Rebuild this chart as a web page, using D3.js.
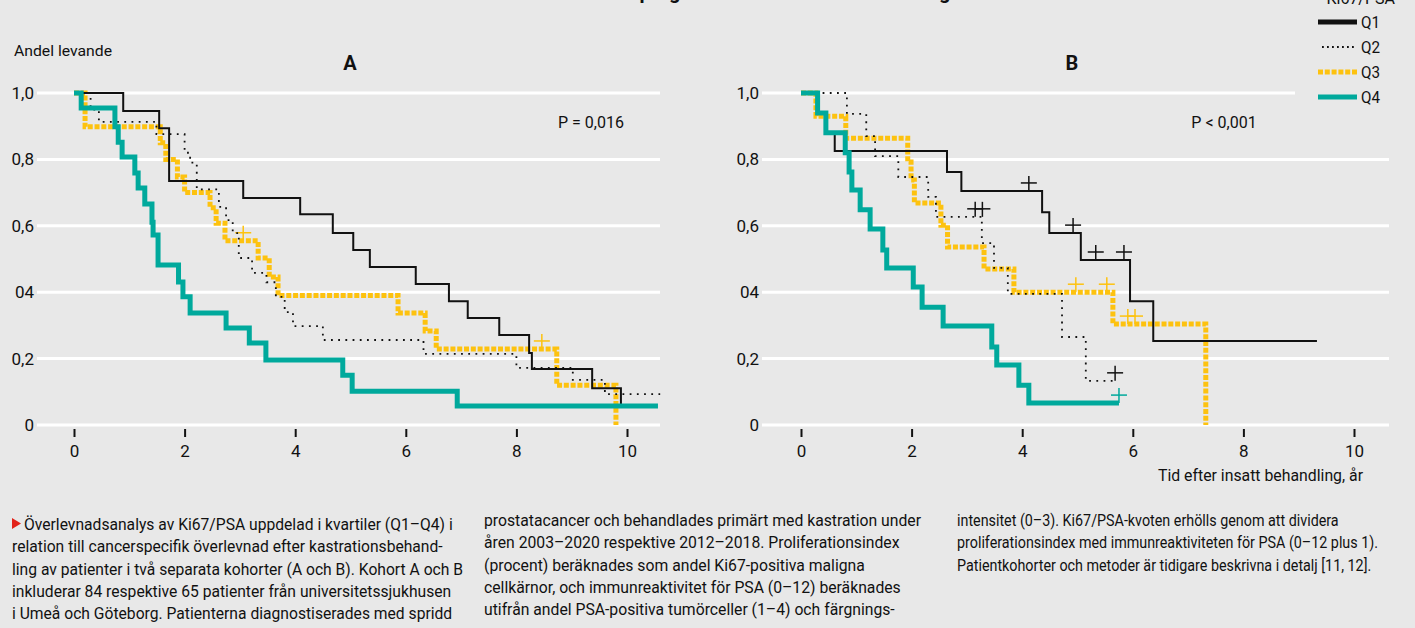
<!DOCTYPE html>
<html>
<head>
<meta charset="utf-8">
<script src="https://cdn.jsdelivr.net/npm/d3@7"></script>
<style>
  html, body { margin: 0; padding: 0; background: #e8e8e8; }
  svg { display: block; font-family: Roboto, "Noto Sans", sans-serif; }
</style>
</head>
<body>
<svg id="chart" width="1415" height="628"></svg>
<script>
// Kaplan-Meier steps: [time (years), share alive]
const cohortA_Q1 = [[0,1],[0.89,0.946],[1.54,0.894],[1.72,0.735],[3.06,0.684],[4.09,0.635],[4.68,0.578],[5.05,0.527],[5.35,0.476],[6.18,0.425],[6.78,0.373],[7.12,0.322],[7.69,0.271],[8.23,0.217],[8.28,0.169],[9.37,0.111],[9.89,0.06]];
const cohortA_Q2 = [[0,1],[0.3,0.95],[0.45,0.913],[1.49,0.876],[2.0,0.82],[2.1,0.79],[2.22,0.71],[2.62,0.657],[2.75,0.617],[2.87,0.578],[2.98,0.503],[3.22,0.458],[3.48,0.43],[3.65,0.386],[3.81,0.34],[3.96,0.298],[4.5,0.256],[6.32,0.214],[8.0,0.172],[9.02,0.136],[9.6,0.093],[10.6,0.093]];
const cohortA_Q3 = [[0,1],[0.2,0.898],[1.56,0.85],[1.66,0.8],[1.87,0.747],[2.0,0.7],[2.46,0.654],[2.57,0.608],[2.73,0.555],[3.33,0.503],[3.53,0.446],[3.69,0.39],[5.86,0.337],[6.35,0.283],[6.55,0.229],[8.73,0.12],[9.8,0.0]];
const cohortA_Q4 = [[0,1],[0.13,0.955],[0.74,0.898],[0.8,0.852],[0.87,0.807],[1.1,0.759],[1.16,0.714],[1.28,0.666],[1.41,0.611],[1.43,0.572],[1.52,0.482],[1.89,0.431],[1.97,0.386],[2.1,0.337],[2.75,0.292],[3.17,0.247],[3.47,0.196],[4.86,0.15],[5.03,0.102],[6.93,0.057],[10.56,0.057]];

const cohortB_Q1 = [[0,1],[0.3,0.94],[0.45,0.88],[0.61,0.825],[2.64,0.762],[2.9,0.705],[4.36,0.641],[4.49,0.578],[5.06,0.497],[5.95,0.373],[6.37,0.253],[9.33,0.253]];
const cohortB_Q2 = [[0,1],[0.83,0.937],[1.18,0.87],[1.34,0.81],[1.76,0.747],[2.3,0.687],[2.44,0.627],[3.27,0.548],[3.49,0.473],[3.74,0.395],[4.72,0.265],[5.15,0.133],[5.68,0.133]];
const cohortB_Q3 = [[0,1],[0.27,0.93],[0.81,0.864],[1.93,0.792],[1.99,0.738],[2.05,0.669],[2.53,0.602],[2.65,0.536],[3.31,0.47],[3.85,0.4],[5.64,0.304],[7.32,0.0]];
const cohortB_Q4 = [[0,1],[0.3,0.94],[0.45,0.88],[0.8,0.82],[0.87,0.762],[0.92,0.708],[1.07,0.648],[1.25,0.59],[1.48,0.527],[1.55,0.473],[2.03,0.416],[2.19,0.355],[2.57,0.298],[3.45,0.235],[3.54,0.181],[3.94,0.12],[4.12,0.066],[5.75,0.066]];

// censored patients (+)
const censorA_Q3 = [[3.06,0.555],[8.46,0.229]];
const censorB_Q1 = [[4.12,0.705],[4.92,0.578],[5.33,0.497],[5.84,0.497]];
const censorB_Q2 = [[3.15,0.627],[3.28,0.627],[5.68,0.133]];
const censorB_Q3 = [[4.97,0.4],[5.53,0.4],[5.91,0.304],[6.04,0.304]];
const censorB_Q4 = [[5.75,0.066]];

const quartiles = ["Q1", "Q2", "Q3", "Q4"];
const xTicks = [0, 2, 4, 6, 8, 10];
const yTicks = [0, 0.2, 0.4, 0.6, 0.8, 1.0];
const yTickLabels = ["0", "0,2", "04", "0,6", "0,8", "1,0"];

const captionCol1 = [
  "Överlevnadsanalys av Ki67/PSA uppdelad i kvartiler (Q1–Q4)  i",
  "relation till cancerspecifik överlevnad efter kastrationsbehand-",
  "ling av patienter i två separata kohorter (A och B). Kohort A och B",
  "inkluderar 84 respektive 65 patienter från universitetssjukhusen",
  "i Umeå och Göteborg. Patienterna diagnostiserades med spridd"
];
const captionCol2 = [
  "prostatacancer och behandlades primärt med kastration under",
  "åren 2003–2020 respektive 2012–2018. Proliferationsindex",
  "(procent) beräknades som andel Ki67-positiva maligna",
  "cellkärnor, och immunreaktivitet för PSA (0–12) beräknades",
  "utifrån andel PSA-positiva tumörceller (1–4) och färgnings-"
];
const captionCol3 = [
  "intensitet (0–3). Ki67/PSA-kvoten erhölls genom att dividera",
  "proliferationsindex med immunreaktiviteten för PSA (0–12 plus 1).",
  "Patientkohorter och metoder är tidigare beskrivna i detalj [11, 12]."
];

const teal = "#00a99c";
const yellow = "#fdc20f";
const ink = "#111";

const styles = {
  Q1: {stroke: ink, width: 2, dash: null},
  Q2: {stroke: ink, width: 1.8, dash: "1.8,5.4"},
  Q3: {stroke: yellow, width: 5, dash: "5,1.8"},
  Q4: {stroke: teal, width: 5, dash: null}
};

const svg = d3.select("#chart");
svg.append("rect").attr("width", 1415).attr("height", 628).attr("fill", "#e8e8e8");

const y = d3.scaleLinear().domain([0, 1]).range([425, 93]);

const panels = [
  {name: "A", x: d3.scaleLinear().domain([0, 10]).range([74, 627]), gridFrom: 37, gridTo: 660, topTo: 660,
   labelRight: 34, nameX: 350, pText: "P = 0,016", pX: 591,
   curves: {Q1: cohortA_Q1, Q2: cohortA_Q2, Q3: cohortA_Q3, Q4: cohortA_Q4},
   censors: {Q3: censorA_Q3}},
  {name: "B", x: d3.scaleLinear().domain([0, 10]).range([801, 1354]), gridFrom: 762, gridTo: 1389, topTo: 1295,
   labelRight: 759, nameX: 1072, pText: "P < 0,001", pX: 1224,
   curves: {Q1: cohortB_Q1, Q2: cohortB_Q2, Q3: cohortB_Q3, Q4: cohortB_Q4},
   censors: {Q1: censorB_Q1, Q2: censorB_Q2, Q3: censorB_Q3, Q4: censorB_Q4}}
];

const drawOrder = ["Q3", "Q2", "Q1", "Q4"];

panels.forEach((p) => {
  const g = svg.append("g");

  // white grid lines
  g.selectAll("line.grid")
    .data(yTicks)
    .enter()
    .append("line")
    .attr("x1", p.gridFrom)
    .attr("x2", (d) => d === 1 ? p.topTo : p.gridTo)
    .attr("y1", (d) => y(d))
    .attr("y2", (d) => y(d))
    .attr("stroke", "#fff")
    .attr("stroke-width", 3);

  // y labels
  const yAxis = d3.axisLeft(y)
    .tickValues(yTicks)
    .tickSize(0)
    .tickPadding(0)
    .tickFormat((d, i) => yTickLabels[i]);
  const ya = g.append("g").attr("transform", `translate(${p.labelRight},0)`).call(yAxis);
  ya.select(".domain").remove();
  ya.selectAll("text").attr("font-size", 17).attr("fill", ink).attr("font-family", "Roboto, sans-serif");

  // x axis
  const xAxis = d3.axisBottom(p.x).tickValues(xTicks).tickSize(8).tickPadding(8).tickFormat(d3.format("d"));
  const xa = g.append("g").attr("transform", "translate(0,429)").call(xAxis);
  xa.select(".domain").remove();
  xa.selectAll(".tick line").attr("stroke", ink).attr("stroke-width", 2);
  xa.selectAll("text").attr("font-size", 17).attr("fill", ink).attr("font-family", "Roboto, sans-serif");

  g.append("text")
    .attr("x", p.nameX).attr("y", 70)
    .attr("text-anchor", "middle")
    .attr("font-size", 20).attr("font-weight", 700)
    .attr("fill", ink)
    .text(p.name);

  g.append("text")
    .attr("x", p.pX).attr("y", 128)
    .attr("text-anchor", "middle")
    .attr("font-size", 16)
    .attr("fill", ink)
    .text(p.pText);

  const line = d3.line()
    .x((d) => p.x(d[0]))
    .y((d) => y(d[1]))
    .curve(d3.curveStepAfter);

  drawOrder.forEach((q) => {
    const st = styles[q];
    g.append("path")
      .datum(p.curves[q])
      .attr("d", line)
      .attr("fill", "none")
      .attr("stroke", st.stroke)
      .attr("stroke-width", st.width)
      .attr("stroke-dasharray", st.dash);

    const marks = p.censors[q];
    if (!marks) return;
    const cross = g.selectAll(null).data(marks).enter().append("g")
      .attr("transform", (d) => `translate(${p.x(d[0])},${y(d[1])})`);
    cross.append("line").attr("x1", 0).attr("x2", 0).attr("y1", -15).attr("y2", 0);
    cross.append("line").attr("x1", -8).attr("x2", 8).attr("y1", -8).attr("y2", -8);
    cross.selectAll("line").attr("stroke", q === "Q2" || q === "Q1" ? ink : st.stroke).attr("stroke-width", 1.5);
  });
});

svg.append("text")
  .attr("x", 14).attr("y", 56)
  .attr("font-size", 15)
  .attr("fill", ink)
  .attr("textLength", 98).attr("lengthAdjust", "spacingAndGlyphs")
  .text("Andel levande");

svg.append("text")
  .attr("x", 1158).attr("y", 481)
  .attr("font-size", 16)
  .attr("fill", ink)
  .attr("textLength", 205).attr("lengthAdjust", "spacingAndGlyphs")
  .text("Tid efter insatt behandling, år");

// title, cut off at the top edge of the picture
svg.append("text")
  .attr("x", 730).attr("y", -1)
  .attr("text-anchor", "middle")
  .attr("font-size", 20).attr("font-weight", 700)
  .attr("fill", ink)
  .text("Ki67/PSA och prognos vid kastrationsbehandling");

// legend
const legend = svg.append("g").attr("transform", "translate(1318,0)");
legend.append("text")
  .attr("x", 77).attr("y", 4)
  .attr("text-anchor", "end")
  .attr("font-size", 16)
  .attr("fill", ink)
  .text("Ki67/PSA");

const legendItems = legend.selectAll("g.item")
  .data(quartiles)
  .enter()
  .append("g")
  .attr("transform", (d, i) => `translate(0,${22 + i * 25})`);

legendItems.append("line")
  .attr("x1", (d) => d === "Q2" ? 4 : 0)
  .attr("x2", 39)
  .attr("stroke", (d) => styles[d].stroke)
  .attr("stroke-width", (d) => d === "Q2" ? 1.8 : 5)
  .attr("stroke-dasharray", (d) => d === "Q2" ? "1.8,3.2" : styles[d].dash);

legendItems.append("text")
  .attr("x", 43).attr("y", 6)
  .attr("font-size", 16)
  .attr("fill", ink)
  .attr("textLength", 19).attr("lengthAdjust", "spacingAndGlyphs")
  .text((d) => d);

// caption: one condensing factor per column, taken from one line whose width is known
const caption = svg.append("g").attr("font-size", 16).attr("fill", ink);
caption.append("path").attr("d", "M12,518 L21,523.5 L12,529 Z").attr("fill", "#e2231a");

function captionColumn(lines, x0, firstX, y0, anchorIndex, anchorEnd) {
  const texts = caption.selectAll(null).data(lines).enter().append("text")
    .attr("x", (d, i) => i === 0 ? firstX : x0)
    .attr("y", (d, i) => y0 + i * 22.3)
    .text((d) => d);
  const natural = texts.nodes().map((n) => n.getComputedTextLength());
  const anchorStart = anchorIndex === 0 ? firstX : x0;
  const k = (anchorEnd - anchorStart) / natural[anchorIndex];
  texts.attr("textLength", (d, i) => natural[i] * k)
    .attr("lengthAdjust", "spacingAndGlyphs");
}

captionColumn(captionCol1, 12, 24, 530, 2, 463);
captionColumn(captionCol2, 484, 484, 526, 0, 921);
captionColumn(captionCol3, 957, 957, 526, 1, 1378);
</script>
</body>
</html>
